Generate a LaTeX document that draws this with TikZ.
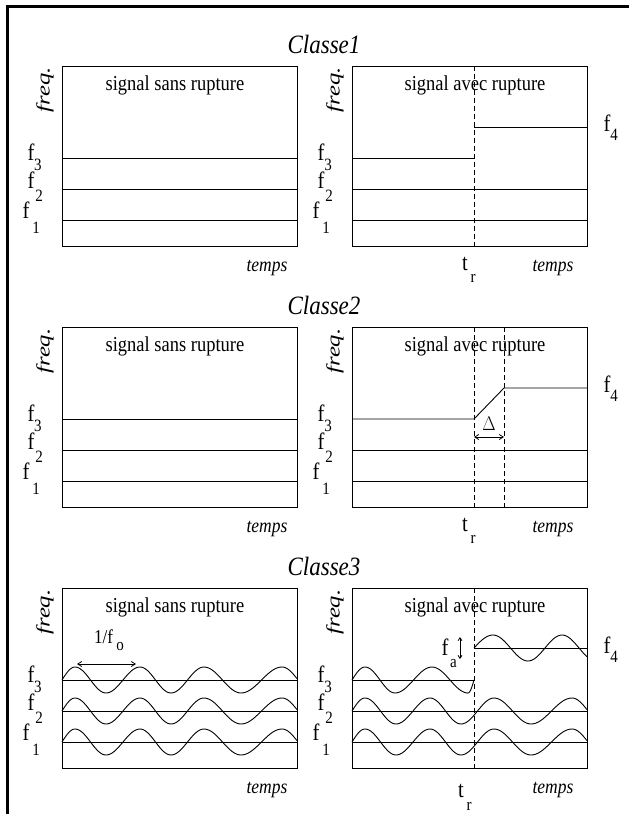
\documentclass[tikz,border=0pt]{standalone}
\usepackage{fontspec}
\setmainfont{Liberation Serif}
\usetikzlibrary{arrows.meta}
\newcommand{\vs}[1]{\scalebox{1}[1.15]{#1}}
% wave: #1 x0, #2 y0, #3 list of xoffset/phase
\newcommand{\wave}[3]{%
  \draw[wv] (#1,#2) \foreach \b/\q [remember=\b as \a (initially 0), remember=\q as \p (initially 0)] in {#3} { -- plot[domain=\a:\b, samples=18] ({#1+\x},{#2-13*sin(\p+(\q-\p)*(\x-\a)/(\b-\a))}) };%
}
\newcommand{\flabels}[3]{%
  \node[fl] (#1f3) at (#2-31,#3+94) {\vs{f}};
  \node[sub] (#1s3) at (#2-24,#3+104) {\vs{3}};
  \node[fl] (#1f2) at (#2-31,#3+122) {\vs{f}};
  \node[sub] (#1s2) at (#2-23,#3+135) {\vs{2}};
  \node[fl] (#1f1) at (#2-36,#3+152) {\vs{f}};
  \node[sub] (#1s1) at (#2-26,#3+167) {\vs{1}};
}
\newcommand{\commonrow}[2]{%
  \node[ttl] (title#1) at (324,#2-13) {\vs{Classe#1}};
  \draw[box] (62,#2) rectangle (297,#2+180);
  \draw[box] (352,#2) rectangle (587,#2+180);
  \node[freqlbl] (freqL#1) at (45,#2+24) {\scalebox{1.3}[1]{freq.}};
  \node[freqlbl] (freqR#1) at (335,#2+24) {\scalebox{1.3}[1]{freq.}};
  \node[lbl] (sans#1) at (175,#2+24) {\vs{signal sans rupture}};
  \node[lbl] (avec#1) at (475,#2+24) {\vs{signal avec rupture}};
  \node[ital] (tempsL#1) at (267,#2+205) {\vs{temps}};
  \node[ital] (tempsR#1) at (553,#2+205) {\vs{temps}};
  \flabels{L#1}{62}{#2}
  \flabels{R#1}{352}{#2}
  \node[fl] (ffour#1) at (607,#2+65) {\vs{f}};
  \node[sub] (sfour#1) at (614,#2+74) {\vs{4}};
}
\begin{document}
\begin{tikzpicture}[x=1pt,y=-1pt, line width=0.9pt,
  lbl/.style={inner sep=0pt, anchor=base, font=\fontsize{18.5}{20}\selectfont},
  ttl/.style={inner sep=0pt, anchor=base, font=\fontsize{23}{26}\selectfont\itshape},
  ital/.style={inner sep=0pt, anchor=base, font=\fontsize{17.5}{20}\selectfont\itshape},
  fl/.style={inner sep=0pt, anchor=base, font=\fontsize{20.5}{22}\selectfont},
  sub/.style={inner sep=0pt, anchor=base, font=\fontsize{15}{17}\selectfont},
  small/.style={inner sep=0pt, anchor=base, font=\fontsize{17}{19}\selectfont},
  freqlbl/.style={inner sep=0pt, rotate=90, font=\fontsize{19}{20}\selectfont\itshape},
  box/.style={draw, line width=0.9pt},
  wv/.style={line width=0.9pt},
  dsh/.style={dash pattern=on 5pt off 3pt, line width=0.8pt},
  arr/.style={{Straight Barb[length=4pt,width=5pt]}-{Straight Barb[length=4pt,width=5pt]}, line width=0.8pt},
]
\useasboundingbox (0,0) rectangle (629,814);
\draw[line width=3pt] (7,814) -- (7,6) -- (629,6);

% ---------- Row 1 ----------
\commonrow{1}{66}
\draw (62,158) -- (297,158);
\draw (62,189) -- (297,189);
\draw (62,220) -- (297,220);
\draw (352,158) -- (474,158);
\draw (352,189) -- (587,189);
\draw (352,220) -- (587,220);
\draw (474,127) -- (587,127);
\draw[dsh] (474,66) -- (474,246);
\node[fl] (tA) at (465,270) {\vs{t}};
\node[sub] (rA) at (473,282) {\vs{r}};

% ---------- Row 2 ----------
\commonrow{2}{327}
\draw (62,419) -- (297,419);
\draw (62,450) -- (297,450);
\draw (62,481) -- (297,481);
\draw (352,450) -- (587,450);
\draw (352,481) -- (587,481);
\draw (352,419) -- (474,419) -- (504,388) -- (587,388);
\draw[dsh] (474,327) -- (474,507);
\draw[dsh] (504,327) -- (504,507);
\coordinate (dA) at (474,437);
\coordinate (dB) at (504,437);
\draw[arr] (dA) -- (dB);
\node[small] (delta) at (489,430) {\vs{$\Delta$}};
\node[fl] (tB) at (465,531) {\vs{t}};
\node[sub] (rB) at (473,543) {\vs{r}};

% ---------- Row 3 ----------
\commonrow{3}{588}
\draw (62,680) -- (297,680);
\draw (62,711) -- (297,711);
\draw (62,742) -- (297,742);
\draw (352,680) -- (474,680);
\draw (352,711) -- (587,711);
\draw (352,742) -- (587,742);
\draw (474,648) -- (587,648);
\wave{62}{680}{13/90, 44/270, 78/450, 109/630, 142/810, 179/990, 220/1170, 235/1254}
\wave{62}{711}{13/90, 44/270, 78/450, 109/630, 142/810, 179/990, 220/1170, 235/1254}
\wave{62}{742}{13/90, 44/270, 78/450, 109/630, 142/810, 179/990, 220/1170, 235/1254}
\wave{352}{711}{13/90, 44/270, 78/450, 109/630, 142/810, 179/990, 220/1170, 235/1254}
\wave{352}{742}{13/90, 44/270, 78/450, 109/630, 142/810, 179/990, 220/1170, 235/1254}
\wave{352}{680}{13/90, 43/270, 80/450, 116/630, 122/720}
\wave{474}{648}{19/90, 54/270, 88/450, 113/582}
\draw[dsh] (474,588) -- (474,768);
\coordinate (oA) at (77,664);
\coordinate (oB) at (136,664);
\draw[arr] (oA) -- (oB);
\node[small] (onef) at (103.5,643) {\vs{1/f}};
\node[sub] (osub) at (120,650) {\vs{o}};
\coordinate (aA) at (460,637);
\coordinate (aB) at (460,659);
\draw[{Straight Barb[length=3pt,width=4pt]}-{Straight Barb[length=3pt,width=4pt]}, line width=0.8pt] (aA) -- (aB);
\node[fl] (fa) at (445,655) {\vs{f}};
\node[sub] (asub) at (453.5,667) {\vs{a}};
\node[fl] (tC) at (461,797) {\vs{t}};
\node[sub] (rC) at (469,810) {\vs{r}};
\end{tikzpicture}
\end{document}
